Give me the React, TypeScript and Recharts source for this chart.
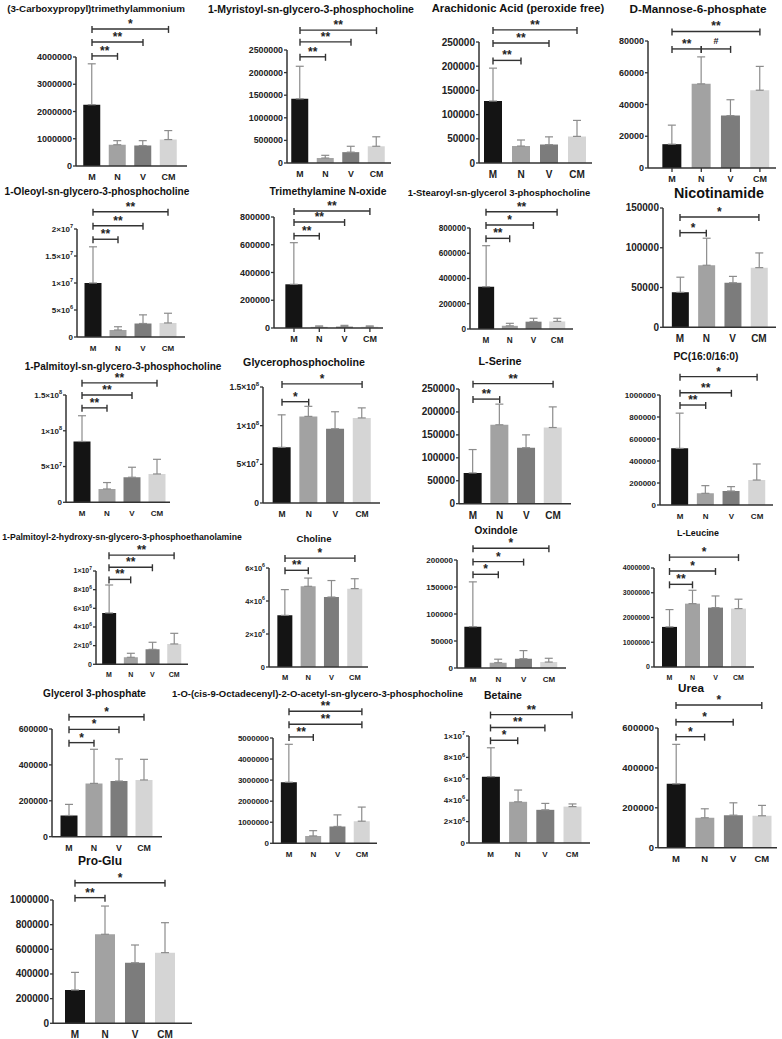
import React from 'react';
import { BarChart, Bar, XAxis, YAxis, ErrorBar, Cell, ReferenceLine } from 'recharts';

// [from group, to group, label, bracket level in data units]
type Sig = [string, string, string, number];

const groups = ['M', 'N', 'V', 'CM'];

// (3-Carboxypropyl)trimethylammonium
const carboxyMean = [2250000, 780000, 750000, 970000];
const carboxyErr = [1500000, 150000, 180000, 330000];
const carboxyTicks = [0, 1000000, 2000000, 3000000, 4000000];
const carboxySig: Sig[] = [['M', 'N', '**', 4040000], ['M', 'V', '**', 4550000], ['M', 'CM', '*', 5030000]];

// 1-Myristoyl-sn-glycero-3-phosphocholine
const myristoylMean = [1420000, 110000, 240000, 370000];
const myristoylErr = [720000, 60000, 130000, 210000];
const myristoylTicks = [0, 500000, 1000000, 1500000, 2000000, 2500000];
const myristoylSig: Sig[] = [['M', 'N', '**', 2350000], ['M', 'V', '**', 2680000], ['M', 'CM', '**', 2940000]];

// Arachidonic Acid (peroxide free)
const arachidonicMean = [128000, 35000, 38000, 55000];
const arachidonicErr = [68000, 12500, 16000, 33000];
const arachidonicTicks = [0, 50000, 100000, 150000, 200000, 250000];
const arachidonicSig: Sig[] = [['M', 'N', '**', 212000], ['M', 'V', '**', 248000], ['M', 'CM', '**', 275000]];

// D-Mannose-6-phosphate
const mannoseMean = [15000, 53000, 33000, 49000];
const mannoseErr = [12000, 17000, 10000, 15000];
const mannoseTicks = [0, 20000, 40000, 60000, 80000];
const mannoseSig: Sig[] = [['M', 'N', '**', 75000], ['N', 'V', '#', 75000], ['M', 'CM', '**', 86000]];

// 1-Oleoyl-sn-glycero-3-phosphocholine
const oleoylMean = [10000000, 1300000, 2500000, 2600000];
const oleoylErr = [6700000, 600000, 1600000, 1800000];
const oleoylTicks = [0, 5000000, 10000000, 15000000, 20000000];
const oleoylSig: Sig[] = [['M', 'N', '**', 18100000], ['M', 'V', '**', 20600000], ['M', 'CM', '**', 23200000]];

// Trimethylamine N-oxide
const tmaoMean = [315000, 8000, 10000, 9000];
const tmaoErr = [300000, 7000, 9000, 6000];
const tmaoTicks = [0, 200000, 400000, 600000, 800000];
const tmaoSig: Sig[] = [['M', 'N', '**', 665000], ['M', 'V', '**', 764000], ['M', 'CM', '**', 843000]];

// 1-Stearoyl-sn-glycerol 3-phosphocholine
const stearoylMean = [335000, 25000, 58000, 60000];
const stearoylErr = [325000, 20000, 27000, 25000];
const stearoylTicks = [0, 200000, 400000, 600000, 800000];
const stearoylSig: Sig[] = [['M', 'N', '**', 718000], ['M', 'V', '*', 824000], ['M', 'CM', '**', 929000]];

// Nicotinamide
const nicotinamideMean = [44000, 78000, 56000, 75000];
const nicotinamideErr = [19000, 34000, 8000, 18500];
const nicotinamideTicks = [0, 50000, 100000, 150000];
const nicotinamideSig: Sig[] = [['M', 'N', '*', 119000], ['M', 'CM', '*', 138600]];

// 1-Palmitoyl-sn-glycero-3-phosphocholine
const palmitoylMean = [85000000, 18600000, 35000000, 39600000];
const palmitoylErr = [36000000, 9000000, 14000000, 20500000];
const palmitoylTicks = [0, 50000000, 100000000, 150000000];
const palmitoylSig: Sig[] = [['M', 'N', '**', 132000000], ['M', 'V', '**', 150000000], ['M', 'CM', '**', 167000000]];

// Glycerophosphocholine
const gpcMean = [72000000, 112000000, 96000000, 110000000];
const gpcErr = [42000000, 13000000, 22000000, 13000000];
const gpcTicks = [0, 50000000, 100000000, 150000000];
const gpcSig: Sig[] = [['M', 'N', '*', 131000000], ['M', 'CM', '*', 154000000]];

// L-Serine
const serineMean = [67000, 172000, 122000, 166000];
const serineErr = [51000, 45000, 28000, 45000];
const serineTicks = [0, 50000, 100000, 150000, 200000, 250000];
const serineSig: Sig[] = [['M', 'N', '**', 228000], ['M', 'CM', '**', 261600]];

// PC(16:0/16:0)
const pcMean = [515000, 106000, 127000, 227000];
const pcErr = [320000, 70000, 40000, 146000];
const pcTicks = [0, 200000, 400000, 600000, 800000, 1000000];
const pcSig: Sig[] = [['M', 'N', '**', 909000], ['M', 'V', '**', 1020000], ['M', 'CM', '*', 1167000]];

// 1-Palmitoyl-2-hydroxy-sn-glycero-3-phosphoethanolamine
const peMean = [5500000, 750000, 1600000, 2180000];
const peErr = [3000000, 430000, 760000, 1140000];
const peTicks = [0, 2000000, 4000000, 6000000, 8000000, 10000000];
const peSig: Sig[] = [['M', 'N', '**', 9100000], ['M', 'V', '**', 10400000], ['M', 'CM', '**', 11700000]];

// Choline
const cholineMean = [3130000, 4890000, 4240000, 4750000];
const cholineErr = [1560000, 500000, 1000000, 600000];
const cholineTicks = [0, 2000000, 4000000, 6000000];
const cholineSig: Sig[] = [['M', 'N', '**', 5860000], ['M', 'CM', '*', 6600000]];

// Oxindole
const oxindoleMean = [76500, 9800, 17200, 11000];
const oxindoleErr = [83000, 6500, 15000, 7000];
const oxindoleTicks = [0, 50000, 100000, 150000, 200000];
const oxindoleSig: Sig[] = [['M', 'N', '*', 173500], ['M', 'V', '*', 197000], ['M', 'CM', '*', 221700]];

// L-Leucine
const leucineMean = [1620000, 2560000, 2400000, 2360000];
const leucineErr = [700000, 540000, 470000, 380000];
const leucineTicks = [0, 1000000, 2000000, 3000000, 4000000];
const leucineSig: Sig[] = [['M', 'N', '**', 3340000], ['M', 'V', '*', 3880000], ['M', 'CM', '*', 4440000]];

// Glycerol 3-phosphate
const g3pMean = [118000, 297000, 310000, 316000];
const g3pErr = [62000, 190000, 123000, 115000];
const g3pTicks = [0, 200000, 400000, 600000];
const g3pSig: Sig[] = [['M', 'N', '*', 524000], ['M', 'V', '*', 598000], ['M', 'CM', '*', 668500]];

// 1-O-(cis-9-Octadecenyl)-2-O-acetyl-sn-glycero-3-phosphocholine
const octaMean = [2900000, 350000, 800000, 1050000];
const octaErr = [1800000, 250000, 550000, 670000];
const octaTicks = [0, 1000000, 2000000, 3000000, 4000000, 5000000];
const octaSig: Sig[] = [['M', 'N', '**', 5050000], ['M', 'CM', '**', 5650000], ['M', 'CM', '**', 6270000]];

// Betaine
const betaineMean = [6200000, 3850000, 3100000, 3400000];
const betaineErr = [2700000, 1100000, 600000, 250000];
const betaineTicks = [0, 2000000, 4000000, 6000000, 8000000, 10000000];
const betaineSig: Sig[] = [['M', 'N', '*', 9600000], ['M', 'V', '**', 10800000], ['M', 'CM', '**', 12000000]];

// Urea
const ureaMean = [320000, 150000, 163000, 160000];
const ureaErr = [198000, 45000, 62000, 52000];
const ureaTicks = [0, 200000, 400000, 600000];
const ureaSig: Sig[] = [['M', 'N', '*', 556500], ['M', 'V', '*', 631500], ['M', 'CM', '*', 715000]];

// Pro-Glu
const proGluMean = [270000, 722000, 491000, 573000];
const proGluErr = [143000, 229000, 144000, 243000];
const proGluTicks = [0, 200000, 400000, 600000, 800000, 1000000];
const proGluSig: Sig[] = [['M', 'N', '**', 1019000], ['M', 'CM', '*', 1140000]];

const barFill = ['#141414', '#a2a2a2', '#7c7c7c', '#d5d5d5'];
const FONT = '"Liberation Sans", Arial, sans-serif';
const YW = 60; // y axis width
const MT = 60; // room above the plot for the brackets
const XH = 24; // x axis height

interface PanelSpec {
  title: string;
  mean: number[];
  err: number[];
  ticks: number[];
  sig: Sig[];
  sci?: boolean;
  xTicks?: boolean;
  // layout in page pixels
  tx: number; ty: number; tw: number;
  ax: number; xEnd: number; yTop: number; yBase: number;
  c0: number; dc: number; fs: number;
}

const panels: PanelSpec[] = [
  { title: '(3-Carboxypropyl)trimethylammonium', mean: carboxyMean, err: carboxyErr, ticks: carboxyTicks, sig: carboxySig,
    tx: 96, ty: 9, tw: 178, ax: 76, xEnd: 187, yTop: 57, yBase: 166, c0: 92, dc: 25.5, fs: 9 },
  { title: '1-Myristoyl-sn-glycero-3-phosphocholine', mean: myristoylMean, err: myristoylErr, ticks: myristoylTicks, sig: myristoylSig,
    tx: 311, ty: 9, tw: 206, ax: 287, xEnd: 391, yTop: 50, yBase: 163, c0: 300, dc: 25.5, fs: 8.8 },
  { title: 'Arachidonic Acid (peroxide free)', mean: arachidonicMean, err: arachidonicErr, ticks: arachidonicTicks, sig: arachidonicSig,
    tx: 518, ty: 9, tw: 173, ax: 479, xEnd: 592, yTop: 42, yBase: 163, c0: 493, dc: 28, fs: 10 },
  { title: 'D-Mannose-6-phosphate', mean: mannoseMean, err: mannoseErr, ticks: mannoseTicks, sig: mannoseSig, xTicks: true,
    tx: 698, ty: 9, tw: 137, ax: 648, xEnd: 776, yTop: 41, yBase: 168, c0: 672, dc: 29.3, fs: 9 },
  { title: '1-Oleoyl-sn-glycero-3-phosphocholine', mean: oleoylMean, err: oleoylErr, ticks: oleoylTicks, sig: oleoylSig, sci: true,
    tx: 97, ty: 192, tw: 185, ax: 77, xEnd: 185, yTop: 229, yBase: 337, c0: 93, dc: 25, fs: 8 },
  { title: 'Trimethylamine N-oxide', mean: tmaoMean, err: tmaoErr, ticks: tmaoTicks, sig: tmaoSig, xTicks: true,
    tx: 328, ty: 192, tw: 117, ax: 274, xEnd: 383, yTop: 217, yBase: 328, c0: 294, dc: 25.3, fs: 9 },
  { title: '1-Stearoyl-sn-glycerol 3-phosphocholine', mean: stearoylMean, err: stearoylErr, ticks: stearoylTicks, sig: stearoylSig,
    tx: 499, ty: 193, tw: 183, ax: 470, xEnd: 573, yTop: 228, yBase: 329, c0: 486, dc: 23.7, fs: 8.2 },
  { title: 'Nicotinamide', mean: nicotinamideMean, err: nicotinamideErr, ticks: nicotinamideTicks, sig: nicotinamideSig,
    tx: 719, ty: 193, tw: 90, ax: 663, xEnd: 776, yTop: 207.7, yBase: 327, c0: 680, dc: 26.3, fs: 10 },
  { title: '1-Palmitoyl-sn-glycero-3-phosphocholine', mean: palmitoylMean, err: palmitoylErr, ticks: palmitoylTicks, sig: palmitoylSig, sci: true,
    tx: 123, ty: 367, tw: 197, ax: 66, xEnd: 170, yTop: 395, yBase: 502.3, c0: 82, dc: 25, fs: 8 },
  { title: 'Glycerophosphocholine', mean: gpcMean, err: gpcErr, ticks: gpcTicks, sig: gpcSig, sci: true,
    tx: 304, ty: 362, tw: 122, ax: 263, xEnd: 380, yTop: 387.3, yBase: 503.3, c0: 282, dc: 26.7, fs: 8.5 },
  { title: 'L-Serine', mean: serineMean, err: serineErr, ticks: serineTicks, sig: serineSig,
    tx: 500, ty: 361, tw: 43, ax: 459, xEnd: 571, yTop: 389.3, yBase: 504, c0: 473, dc: 26.7, fs: 10 },
  { title: 'PC(16:0/16:0)', mean: pcMean, err: pcErr, ticks: pcTicks, sig: pcSig,
    tx: 706, ty: 357, tw: 65, ax: 660, xEnd: 773, yTop: 395, yBase: 505, c0: 680, dc: 25.7, fs: 8 },
  { title: '1-Palmitoyl-2-hydroxy-sn-glycero-3-phosphoethanolamine', mean: peMean, err: peErr, ticks: peTicks, sig: peSig, sci: true,
    tx: 122, ty: 537, tw: 240, ax: 96, xEnd: 188, yTop: 571, yBase: 664.3, c0: 109, dc: 21.7, fs: 7 },
  { title: 'Choline', mean: cholineMean, err: cholineErr, ticks: cholineTicks, sig: cholineSig, sci: true,
    tx: 314, ty: 539, tw: 35, ax: 269, xEnd: 368, yTop: 567.7, yBase: 666.7, c0: 285, dc: 23.3, fs: 7.5 },
  { title: 'Oxindole', mean: oxindoleMean, err: oxindoleErr, ticks: oxindoleTicks, sig: oxindoleSig,
    tx: 496, ty: 531, tw: 43, ax: 457, xEnd: 566, yTop: 560, yBase: 668, c0: 473, dc: 25.3, fs: 8 },
  { title: 'L-Leucine', mean: leucineMean, err: leucineErr, ticks: leucineTicks, sig: leucineSig,
    tx: 698, ty: 533, tw: 42, ax: 654, xEnd: 754, yTop: 567.7, yBase: 666.7, c0: 669.5, dc: 23, fs: 7 },
  { title: 'Glycerol 3-phosphate', mean: g3pMean, err: g3pErr, ticks: g3pTicks, sig: g3pSig,
    tx: 94.5, ty: 694, tw: 103, ax: 52, xEnd: 162, yTop: 729, yBase: 836.7, c0: 69, dc: 25, fs: 8.8 },
  { title: '1-O-(cis-9-Octadecenyl)-2-O-acetyl-sn-glycero-3-phosphocholine', mean: octaMean, err: octaErr, ticks: octaTicks, sig: octaSig,
    tx: 317.5, ty: 694, tw: 291, ax: 273, xEnd: 377, yTop: 737.7, yBase: 843, c0: 289, dc: 24.3, fs: 8 },
  { title: 'Betaine', mean: betaineMean, err: betaineErr, ticks: betaineTicks, sig: betaineSig, sci: true,
    tx: 503, ty: 695, tw: 38, ax: 469, xEnd: 590, yTop: 736, yBase: 843, c0: 490.5, dc: 27.2, fs: 8 },
  { title: 'Urea', mean: ureaMean, err: ureaErr, ticks: ureaTicks, sig: ureaSig,
    tx: 691, ty: 688, tw: 26, ax: 658, xEnd: 777, yTop: 728.3, yBase: 848, c0: 676, dc: 28.6, fs: 9.5 },
  { title: 'Pro-Glu', mean: proGluMean, err: proGluErr, ticks: proGluTicks, sig: proGluSig,
    tx: 100, ty: 861, tw: 44, ax: 53, xEnd: 192, yTop: 900, yBase: 1023.3, c0: 75, dc: 30, fs: 10 },
];

let measureCtx: CanvasRenderingContext2D | null = null;
function fitFont(text: string, width: number) {
  if (!measureCtx) measureCtx = document.createElement('canvas').getContext('2d');
  if (!measureCtx) return 10;
  measureCtx.font = `bold 100px ${FONT}`;
  return (width / measureCtx.measureText(text).width) * 100;
}

const makeTick = (fs: number, sci: boolean) => (props: any) => {
  const { x, y, payload } = props;
  const v = payload.value as number;
  const common = {
    x, y, dy: fs * 0.35, textAnchor: 'end' as const, fontSize: fs,
    fontWeight: 'bold' as const, fill: '#222', fontFamily: FONT,
  };
  if (!sci || v === 0) return <text {...common}>{v}</text>;
  const e = Math.floor(Math.log10(v) + 1e-9);
  const m = parseFloat((v / Math.pow(10, e)).toFixed(2));
  return (
    <text {...common}>
      {m}×10<tspan dy={-fs * 0.45} fontSize={fs * 0.7}>{e}</tspan>
    </text>
  );
};

// significance bracket drawn on the ReferenceLine segment
const makeBracket = (label: string) => (props: any) => {
  const { x1, x2, y1 } = props;
  const hash = label === '#';
  return (
    <g>
      <line x1={x1} y1={y1} x2={x2} y2={y1} stroke="#333" strokeWidth={1.4} />
      <line x1={x1} y1={y1 - 3} x2={x1} y2={y1 + 4} stroke="#333" strokeWidth={1.4} />
      <line x1={x2} y1={y1 - 3} x2={x2} y2={y1 + 4} stroke="#333" strokeWidth={1.4} />
      <text x={(x1 + x2) / 2} y={hash ? y1 - 5 : y1 - 1} textAnchor="middle" fontSize={hash ? 9 : 12}
        fontWeight="bold" fill="#222" fontFamily={FONT}>{label}</text>
    </g>
  );
};

function Panel({ p }: { p: PanelSpec }) {
  const plotW = p.xEnd - p.ax;
  const plotH = p.yBase - p.yTop;
  const padL = Math.max(0, p.c0 - p.dc / 2 - p.ax);
  const padR = Math.max(0, p.xEnd - (p.c0 + 3.5 * p.dc));
  const data = groups.map((g, i) => ({ group: g, mean: p.mean[i], err: [0, p.err[i]] }));
  const top = p.ticks[p.ticks.length - 1];
  const tfs = fitFont(p.title, p.tw);

  return (
    <>
      <div style={{
        position: 'absolute', left: p.tx, top: p.ty, transform: 'translate(-50%, -50%)',
        fontSize: tfs, fontWeight: 'bold', whiteSpace: 'nowrap', lineHeight: 1, color: '#111',
      }}>
        {p.title}
      </div>
      <div style={{ position: 'absolute', left: p.ax - YW, top: p.yTop - MT }}>
        <BarChart
          width={YW + plotW + 4}
          height={MT + plotH + XH}
          data={data}
          margin={{ top: MT, right: 4, bottom: 0, left: 0 }}
          barSize={Math.round(p.dc * 0.66)}
        >
          <XAxis
            dataKey="group"
            height={XH}
            padding={{ left: padL, right: padR }}
            interval={0}
            tick={{ fontSize: p.fs, fontWeight: 'bold', fill: '#222', fontFamily: FONT }}
            tickLine={p.xTicks ? { stroke: '#333', strokeWidth: 1.3 } : false}
            tickSize={4}
            tickMargin={4}
            axisLine={{ stroke: '#333', strokeWidth: 1.5 }}
          />
          <YAxis
            width={YW}
            domain={[0, top]}
            ticks={p.ticks}
            allowDataOverflow
            interval={0}
            tick={makeTick(p.fs, !!p.sci)}
            tickSize={3}
            tickMargin={1}
            tickLine={{ stroke: '#333', strokeWidth: 1.3 }}
            axisLine={{ stroke: '#333', strokeWidth: 1.5 }}
          />
          <Bar dataKey="mean" isAnimationActive={false}>
            {data.map((d, i) => <Cell key={d.group} fill={barFill[i]} />)}
            <ErrorBar dataKey="err" width={4} stroke="#8c8c8c" strokeWidth={1.2} />
          </Bar>
          {p.sig.map((s, i) => (
            <ReferenceLine
              key={i}
              segment={[{ x: s[0], y: s[3] }, { x: s[1], y: s[3] }]}
              ifOverflow="visible"
              shape={makeBracket(s[2])}
            />
          ))}
        </BarChart>
      </div>
    </>
  );
}

export default function App() {
  return (
    <div style={{
      position: 'absolute', left: 0, top: 0, width: 782, height: 1039,
      background: '#fff', fontFamily: FONT, overflow: 'hidden',
    }}>
      {panels.map((p) => <Panel key={p.title} p={p} />)}
    </div>
  );
}
